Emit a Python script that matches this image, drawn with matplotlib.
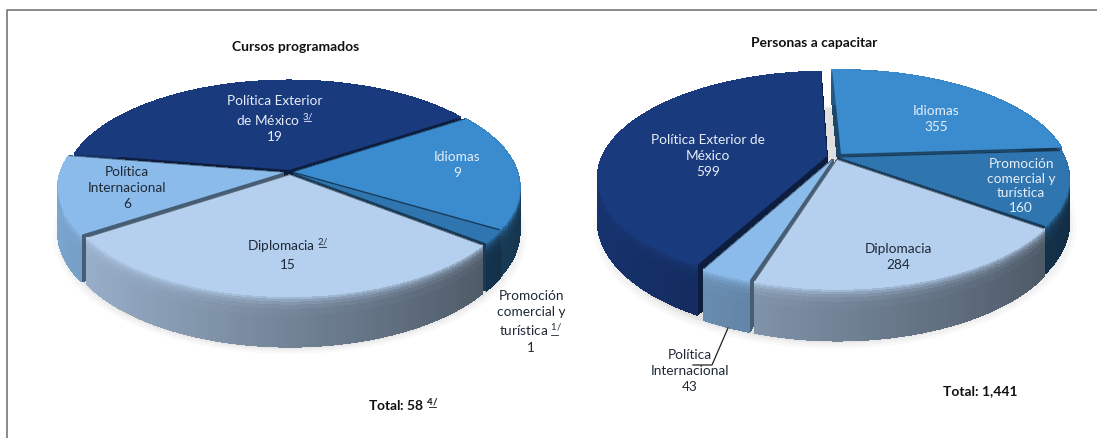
import numpy as np
import matplotlib.pyplot as plt
from matplotlib.colors import to_rgb
from matplotlib.collections import PolyCollection

plt.rcParams['font.family'] = ['Lato', 'DejaVu Sans']
plt.rcParams['mathtext.default'] = 'regular'

# data
categories = ['Política Exterior de México', 'Idiomas',
              'Promoción comercial y turística', 'Diplomacia',
              'Política Internacional']
cursos = [19, 9, 1, 15, 6]
personas = [599, 355, 160, 284, 43]

# styles
face_colors = ['#1a3a7e', '#3a8ccf', '#2f75b0', '#b5d0ef', '#8bbbea']
dark_text = '#1f2937'
light_text = '#e6eef8'

geom_left = dict(cx=290, cy=173, rx=223, ry=103, k=1/7, h=43, start=-80.5)
geom_right = dict(cx=835, cy=158, rx=225, ry=102, k=0.2, h=41, start=-152)
explode_left = [0.02, 0.02, 0.02, 0.03, 0.03]
explode_right = [0.036, 0.04, 0.02, 0.03, 0.025]


def to_screen(u, v, z, g):
  s = 1 / (1 + g['k'] * v)
  return g['cx'] + g['rx'] * u * s, g['cy'] - g['ry'] * v * s + g['h'] * z * s


def draw_shadow(ax, g):
  th = np.radians(np.arange(0, 361, 3))
  for grow, alpha in zip([1.05, 1.035, 1.02, 1.01], [0.03, 0.04, 0.05, 0.06]):
    x, y = to_screen(grow * np.sin(th), grow * np.cos(th), 1.08, g)
    ax.fill(x, y, color='#555555', alpha=alpha, lw=0, zorder=1)


def draw_slice(ax, g, t1, t2, color, explode, zorder):
  base = np.array(to_rgb(color))
  mid = np.radians((t1 + t2) / 2)
  ou, ov = explode * np.sin(mid), explode * np.cos(mid)
  th = np.radians(np.linspace(t1, t2, int(t2 - t1) + 2))
  us, vs = ou + np.sin(th), ov + np.cos(th)

  polys, cols = [], []
  bands = [0, .03, .07, .12, .18, .26, .4, 1]
  # radial cut walls
  for ue, ve in [(us[0], vs[0]), (us[-1], vs[-1])]:
    x0, y0 = to_screen(ou, ov, 0, g)
    x1, y1 = to_screen(ue, ve, 0, g)
    x2, y2 = to_screen(ue, ve, 1, g)
    x3, y3 = to_screen(ou, ov, 1, g)
    polys.append([(x0, y0), (x1, y1), (x2, y2), (x3, y3)])
    cols.append(base * 0.5)
  # outer wall, lighter on the left and where it meets the top face
  for i in range(len(th) - 1):
    f = 0.63 - 0.125 * (us[i] + us[i + 1])
    for b0, b1 in zip(bands[:-1], bands[1:]):
      xa, ya = to_screen(us[i], vs[i], b0, g)
      xb, yb = to_screen(us[i + 1], vs[i + 1], b0, g)
      xc, yc = to_screen(us[i + 1], vs[i + 1], b1, g)
      xd, yd = to_screen(us[i], vs[i], b1, g)
      polys.append([(xa, ya), (xb, yb), (xc, yc), (xd, yd)])
      glow = np.exp(-(b0 + b1) / 2 / 0.1)
      cols.append(np.clip(base * (f + (1.05 - f) * glow), 0, 1))
  ax.add_collection(PolyCollection(polys, facecolors=cols, edgecolors=cols,
                                   linewidths=0.5, antialiaseds=False,
                                   zorder=zorder))
  x, y = to_screen(np.r_[ou, us], np.r_[ov, vs], 0, g)
  ax.fill(x, y, color=color, lw=0, zorder=zorder + 0.5)


def draw_pie(ax, values, g, explode):
  angles = np.array(values) / np.sum(values) * 360
  ends = g['start'] + np.cumsum(angles)
  starts = ends - angles
  mids = np.radians((starts + ends) / 2)
  # back slices first
  order = np.argsort(-np.cos(mids))
  draw_shadow(ax, g)
  for n, i in enumerate(order):
    draw_slice(ax, g, starts[i], ends[i], face_colors[i], explode[i], 2 + n)


fig, ax = plt.subplots(figsize=(10.97, 4.39), dpi=100)
fig.subplots_adjust(0, 0, 1, 1)
ax.set_xlim(0, 1097)
ax.set_ylim(439, 0)
ax.axis('off')

# frame of the original screenshot
ax.plot([1097, 7, 7], [10.5, 10.5, 439], color='#6b6b6b', lw=1.1, zorder=1)

draw_pie(ax, cursos, geom_left, explode_left)
draw_pie(ax, personas, geom_right, explode_right)

fs = 9.8
txt = dict(ha='center', va='center', fontsize=fs, linespacing=1.36, zorder=30)
bold = dict(ha='center', va='center', fontsize=10, fontweight='bold',
            color='#111111', zorder=30)


def sup(s):
  return ' $^{' + s + '}$'


def underline(x, y, color):
  ax.plot([x - 4.5, x + 3], [y, y], color=color, lw=0.6, zorder=30)


ax.text(296, 47, 'Cursos programados', **bold)
ax.text(275, 119, 'Política Exterior\nde México' + sup('3/') + f'\n{cursos[0]}',
        color=light_text, **txt)
underline(308, 122, light_text)
ax.text(457, 165, f'Idiomas\n{cursos[1]}', color=light_text, **txt)
ax.text(531, 322, 'Promoción\ncomercial y\nturística' + sup('1/') + f'\n{cursos[2]}',
        color=dark_text, **txt)
underline(555, 336, dark_text)
ax.text(288, 254, 'Diplomacia' + sup('2/') + f'\n{cursos[3]}', color=dark_text, **txt)
underline(323, 248, dark_text)
ax.text(127, 188, f'Política\nInternacional\n{cursos[4]}', color=dark_text, **txt)
ax.text(403, 405, 'Total: 58' + sup('4/'), **bold)
underline(433, 408, '#111111')

ax.text(814, 43, 'Personas a capacitar', **bold)
ax.text(708, 156, f'Política Exterior de\nMéxico\n{personas[0]}',
        color=light_text, **txt)
ax.text(936, 119, f'Idiomas\n{personas[1]}', color=light_text, **txt)
ax.text(1021, 186, f'Promoción\ncomercial y\nturística\n{personas[2]}',
        color=light_text, ha='center', va='center', fontsize=fs,
        linespacing=1.26, zorder=30)
ax.text(898, 257, f'Diplomacia\n{personas[3]}', color=dark_text, **txt)
ax.text(690, 371, f'Política\nInternacional\n{personas[4]}', color=dark_text, **txt)
ax.plot([728, 712, 693], [329, 366, 366], color='#222222', lw=0.9, zorder=31)
ax.text(980, 391, 'Total: 1,441', **bold)

fig.savefig('out.png', dpi=100)
